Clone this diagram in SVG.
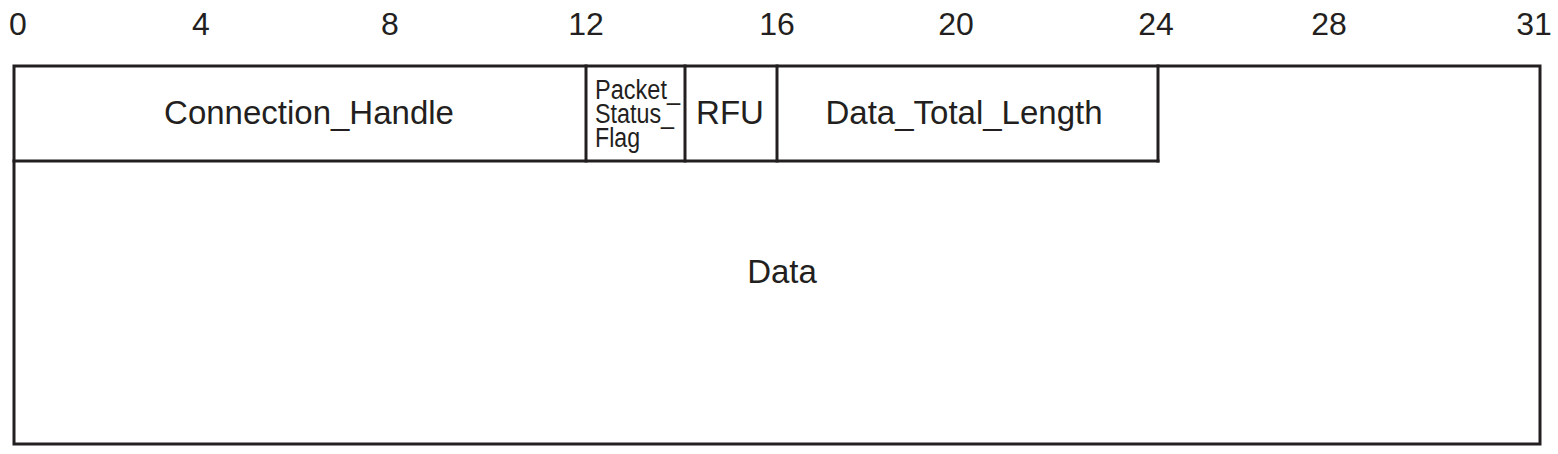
<svg xmlns="http://www.w3.org/2000/svg" width="1558" height="454" viewBox="0 0 1558 454">
<style>
.ln{fill:none;stroke:#231f20;stroke-width:3;stroke-linecap:square;stroke-linejoin:miter}
.t{font-family:"Liberation Sans",Arial,sans-serif;fill:#231f20}
.big{font-size:33px}
.num{font-size:32px;text-anchor:middle}
.mid{text-anchor:middle}
.sm{font-size:27px}
</style>
<rect width="1558" height="454" fill="#ffffff"/>
<g id="ruler" class="t num">
<text x="18" y="35">0</text>
<text x="201" y="35">4</text>
<text x="390" y="35">8</text>
<text x="586" y="35">12</text>
<text x="777" y="35">16</text>
<text x="956" y="35">20</text>
<text x="1156" y="35">24</text>
<text x="1329" y="35">28</text>
<text x="1534" y="35">31</text>
</g>
<g id="connectors">
<rect class="ln" x="14" y="66" width="1526" height="378"/>
<line class="ln" x1="14" y1="161" x2="1158" y2="161"/>
<line class="ln" x1="586" y1="66" x2="586" y2="161"/>
<line class="ln" x1="685" y1="66" x2="685" y2="161"/>
<line class="ln" x1="777" y1="66" x2="777" y2="161"/>
<line class="ln" x1="1158" y1="66" x2="1158" y2="161"/>
</g>
<g id="connection_handle"><text class="t big mid" x="309" y="124">Connection_Handle</text></g>
<g id="packet_status_flag" class="t sm">
<text x="595" y="99" textLength="85" lengthAdjust="spacingAndGlyphs">Packet_</text>
<text x="595" y="123" textLength="79" lengthAdjust="spacingAndGlyphs">Status_</text>
<text x="595" y="147" textLength="45" lengthAdjust="spacingAndGlyphs">Flag</text>
</g>
<g id="rfu"><text class="t big mid" x="730" y="124">RFU</text></g>
<g id="data_total_length"><text class="t big mid" x="964" y="124">Data_Total_Length</text></g>
<g id="data"><text class="t big mid" x="782" y="283">Data</text></g>
</svg>
